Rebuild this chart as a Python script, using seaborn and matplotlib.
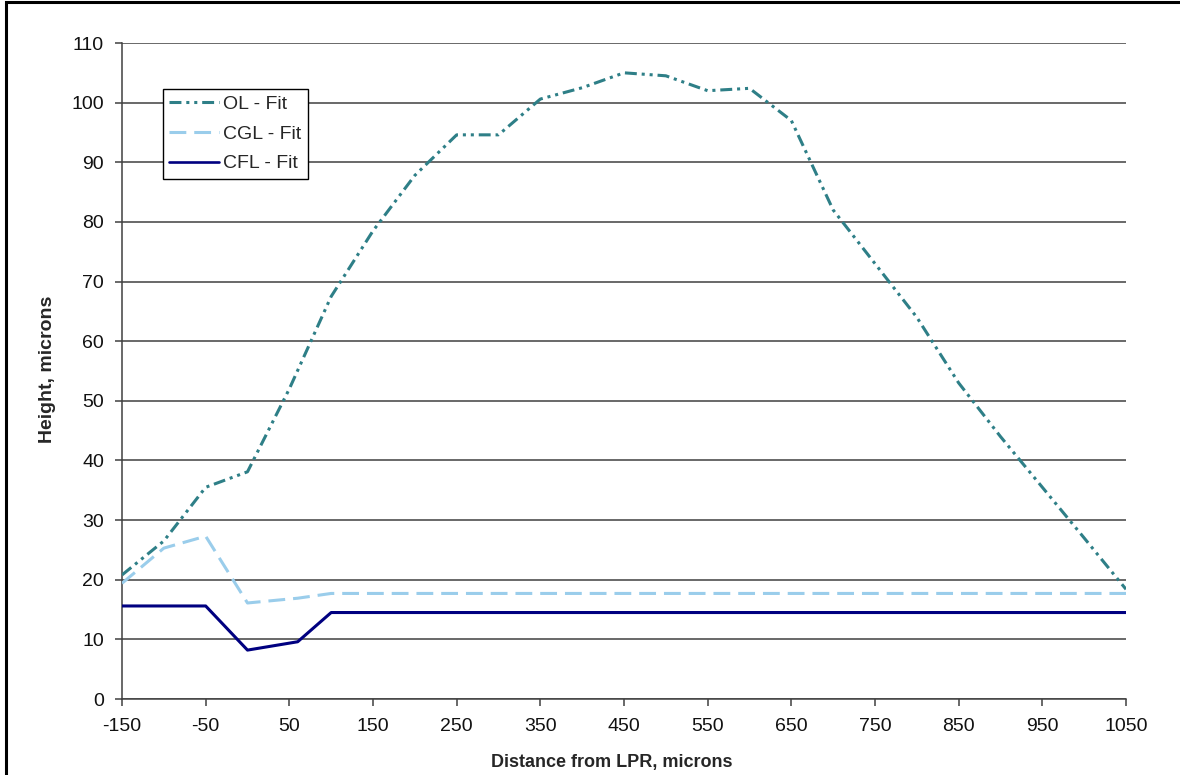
import matplotlib
matplotlib.use("Agg")
import matplotlib.pyplot as plt
import matplotlib.patches as mpatches
import seaborn as sns
import pandas as pd

# ---- data ----
ol_x = [-150, -100, -50, 0, 50, 100, 150, 200, 250, 300, 350, 400, 450,
        500, 550, 600, 650, 700, 750, 800, 850, 900, 950, 1000, 1050]
ol_y = [20.8, 26.5, 35.5, 38.1, 52.0, 67.5, 78.5, 87.8, 94.6, 94.6, 100.6, 102.5, 105.0,
        104.5, 102.0, 102.4, 97.0, 82.0, 73.0, 64.0, 53.0, 44.0, 35.5, 27.0, 18.4]
cgl_x = [-150, -100, -50, 0, 60, 100, 1050]
cgl_y = [19.4, 25.3, 27.3, 16.1, 16.9, 17.7, 17.7]
cfl_x = [-150, -50, 0, 60, 100, 1050]
cfl_y = [15.6, 15.6, 8.2, 9.6, 14.5, 14.5]

series_names = ["OL - Fit", "CGL - Fit", "CFL - Fit"]
x_ticks = list(range(-150, 1051, 100))
y_ticks = list(range(0, 111, 10))
x_label = "Distance from LPR, microns"
y_label = "Height, microns"

df = pd.concat([
    pd.DataFrame({"x": ol_x, "y": ol_y, "series": series_names[0]}),
    pd.DataFrame({"x": cgl_x, "y": cgl_y, "series": series_names[1]}),
    pd.DataFrame({"x": cfl_x, "y": cfl_y, "series": series_names[2]}),
], ignore_index=True)

sns.set_style("white")
plt.rcParams["font.family"] = ["Liberation Sans", "DejaVu Sans"]

fig = plt.figure(figsize=(11.8, 7.75), dpi=100)
ax = fig.add_axes([122 / 1180, 1 - 699 / 775, (1126 - 122) / 1180, (699 - 43) / 775])

palette = {series_names[0]: "#2E7F87", series_names[1]: "#9ACDEB", series_names[2]: "#000080"}
dashes = {series_names[0]: (3.9, 1.6, 1.0, 1.6, 1.0, 1.6),
          series_names[1]: (5.5, 2.6),
          series_names[2]: ""}

sns.lineplot(data=df, x="x", y="y", hue="series", style="series",
             hue_order=series_names, style_order=series_names,
             palette=palette, dashes=dashes, sort=False, estimator=None,
             linewidth=2.2, ax=ax, zorder=3)
for line in ax.get_lines():
    if line.get_label() == series_names[2]:
        line.set_linewidth(1.9)

ax.set_xlim(-150, 1050)
ax.set_ylim(0, 110)
ax.set_xticks(x_ticks)
ax.set_yticks(y_ticks)
ax.set_xticklabels([str(v) for v in x_ticks])
ax.set_yticklabels([str(v) for v in y_ticks])

ax.yaxis.grid(True, color="#404040", linewidth=1.1)
ax.xaxis.grid(False)
for s in ["top", "right"]:
    ax.spines[s].set_visible(False)
for s in ["left", "bottom"]:
    ax.spines[s].set_color("#404040")
    ax.spines[s].set_linewidth(1.1)

ax.tick_params(axis="both", which="major", direction="out", length=5, width=1.1,
               color="#404040", labelsize=14, labelcolor="#111111")
ax.tick_params(axis="y", pad=8, left=True)
ax.tick_params(axis="x", pad=9, bottom=True)

ax.set_xlabel(x_label, fontsize=13, fontweight="bold")
ax.set_ylabel(y_label, fontsize=14, fontweight="bold")
ax.xaxis.set_label_coords(0.488, -0.084)
ax.yaxis.set_label_coords(-0.066, 0.503)

handles, labels = ax.get_legend_handles_labels()
leg = ax.legend(handles, labels, loc="upper left", bbox_to_anchor=(0.0405, 0.930),
                borderaxespad=0, fancybox=False, framealpha=1, edgecolor="black",
                fontsize=14, handlelength=2.6, handletextpad=0.2, labelspacing=0.63,
                borderpad=0.32)
leg.get_frame().set_linewidth(1.0)
leg.set_zorder(5)

# outer chart frame (left & top visible)
fig.patches.append(mpatches.Rectangle((5.5 / 1180, -0.1), 1.2, 1.1 - 2.5 / 775,
                                      transform=fig.transFigure, fill=False,
                                      edgecolor="black", linewidth=2.2))

fig.savefig("out.png", dpi=100, facecolor="white")
